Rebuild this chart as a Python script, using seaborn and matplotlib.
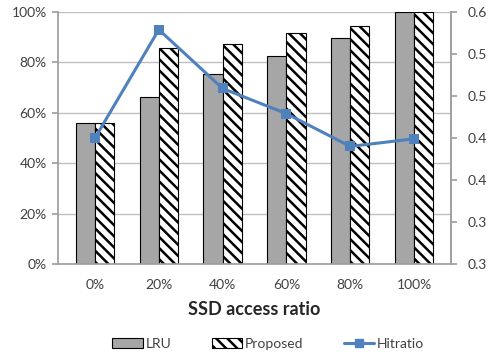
import math
import pandas as pd
import seaborn as sns
import matplotlib.pyplot as plt
from matplotlib.ticker import FuncFormatter
from matplotlib.patches import Patch
from matplotlib.lines import Line2D

# values
ratios = ["0%", "20%", "40%", "60%", "80%", "100%"]
lru = [55.8, 66.3, 75.3, 82.5, 89.5, 100.0]
proposed = [56.0, 85.9, 87.3, 91.5, 94.4, 100.0]
hitratio = [0.450, 0.579, 0.509, 0.479, 0.440, 0.449]
hit_ticks = [0.30, 0.35, 0.40, 0.45, 0.50, 0.55, 0.60]

sns.set_theme(style="white")
plt.rcParams['font.family'] = ['Lato', 'DejaVu Sans']
plt.rcParams['hatch.linewidth'] = 1.8

df = pd.DataFrame({
    "ratio": ratios * 2,
    "value": lru + proposed,
    "method": ["LRU"] * len(ratios) + ["Proposed"] * len(ratios),
})
hits = pd.DataFrame({"ratio": ratios, "hit": hitratio})

fig = plt.figure(figsize=(4.89, 3.55), dpi=100)
ax = fig.add_axes([58 / 489, 1 - 264 / 355, (451 - 58) / 489, (264 - 12) / 355])

sns.barplot(data=df, x="ratio", y="value", hue="method", ax=ax, width=0.6,
            palette={"LRU": "#a6a6a6", "Proposed": "white"},
            edgecolor="black", linewidth=0.8, legend=False)

n = len(ratios)
for i, bar in enumerate(ax.patches[:2 * n]):
    if i >= n:  # second hue = Proposed
        bar.set_hatch("\\\\\\")

ax.set_ylim(0, 100)
ax.set_yticks([0, 20, 40, 60, 80, 100])
ax.yaxis.set_major_formatter(FuncFormatter(lambda v, p: f"{v:.0f}%"))
ax.yaxis.grid(True, color="#bfbfbf", linewidth=1)
ax.set_axisbelow(True)
ax.set_ylabel("")
ax.set_xlabel("SSD access ratio", fontsize=13, fontweight="bold", labelpad=7)
ax.tick_params(axis="y", left=True, length=4, color="#a0a0a0", labelsize=10,
               labelcolor="#404040", pad=4)
ax.tick_params(axis="x", bottom=False, labelsize=10, labelcolor="#404040", pad=5)
for s in ["left", "bottom", "right"]:
    ax.spines[s].set_color("#a0a0a0")
ax.spines["top"].set_visible(False)

ax2 = ax.twinx()
sns.lineplot(data=hits, x="ratio", y="hit", ax=ax2, color="#4f81bd",
             marker="s", markersize=7, markeredgewidth=0, linewidth=2.2, sort=False)
ax2.set_ylim(0.3, 0.6)
ax2.set_yticks(hit_ticks)
# the reference shows the right-axis labels cut to one decimal
ax2.yaxis.set_major_formatter(FuncFormatter(lambda v, p: f"{math.floor(v * 10 + 1e-6) / 10:.1f}"))
ax2.set_ylabel("")
ax2.tick_params(axis="y", right=True, length=4, color="#a0a0a0", labelsize=10,
                labelcolor="#404040", pad=8)
for s in ax2.spines.values():
    s.set_visible(False)
ax2.spines["right"].set_visible(True)
ax2.spines["right"].set_color("#a0a0a0")

handles = [
    Patch(facecolor="#a6a6a6", edgecolor="black", linewidth=0.8, label="LRU"),
    Patch(facecolor="white", edgecolor="black", linewidth=0.8, hatch="\\\\\\", label="Proposed"),
    Line2D([], [], color="#4f81bd", marker="s", markersize=6, linewidth=2.2, label="Hitratio"),
]
fig.legend(handles=handles, loc="center", bbox_to_anchor=(0.549, 1 - 344 / 355), ncol=3,
           frameon=False, fontsize=10, handlelength=2.2, handleheight=0.7,
           columnspacing=2.9, handletextpad=0.2, labelcolor="#404040")

fig.savefig("out.png", dpi=100)
